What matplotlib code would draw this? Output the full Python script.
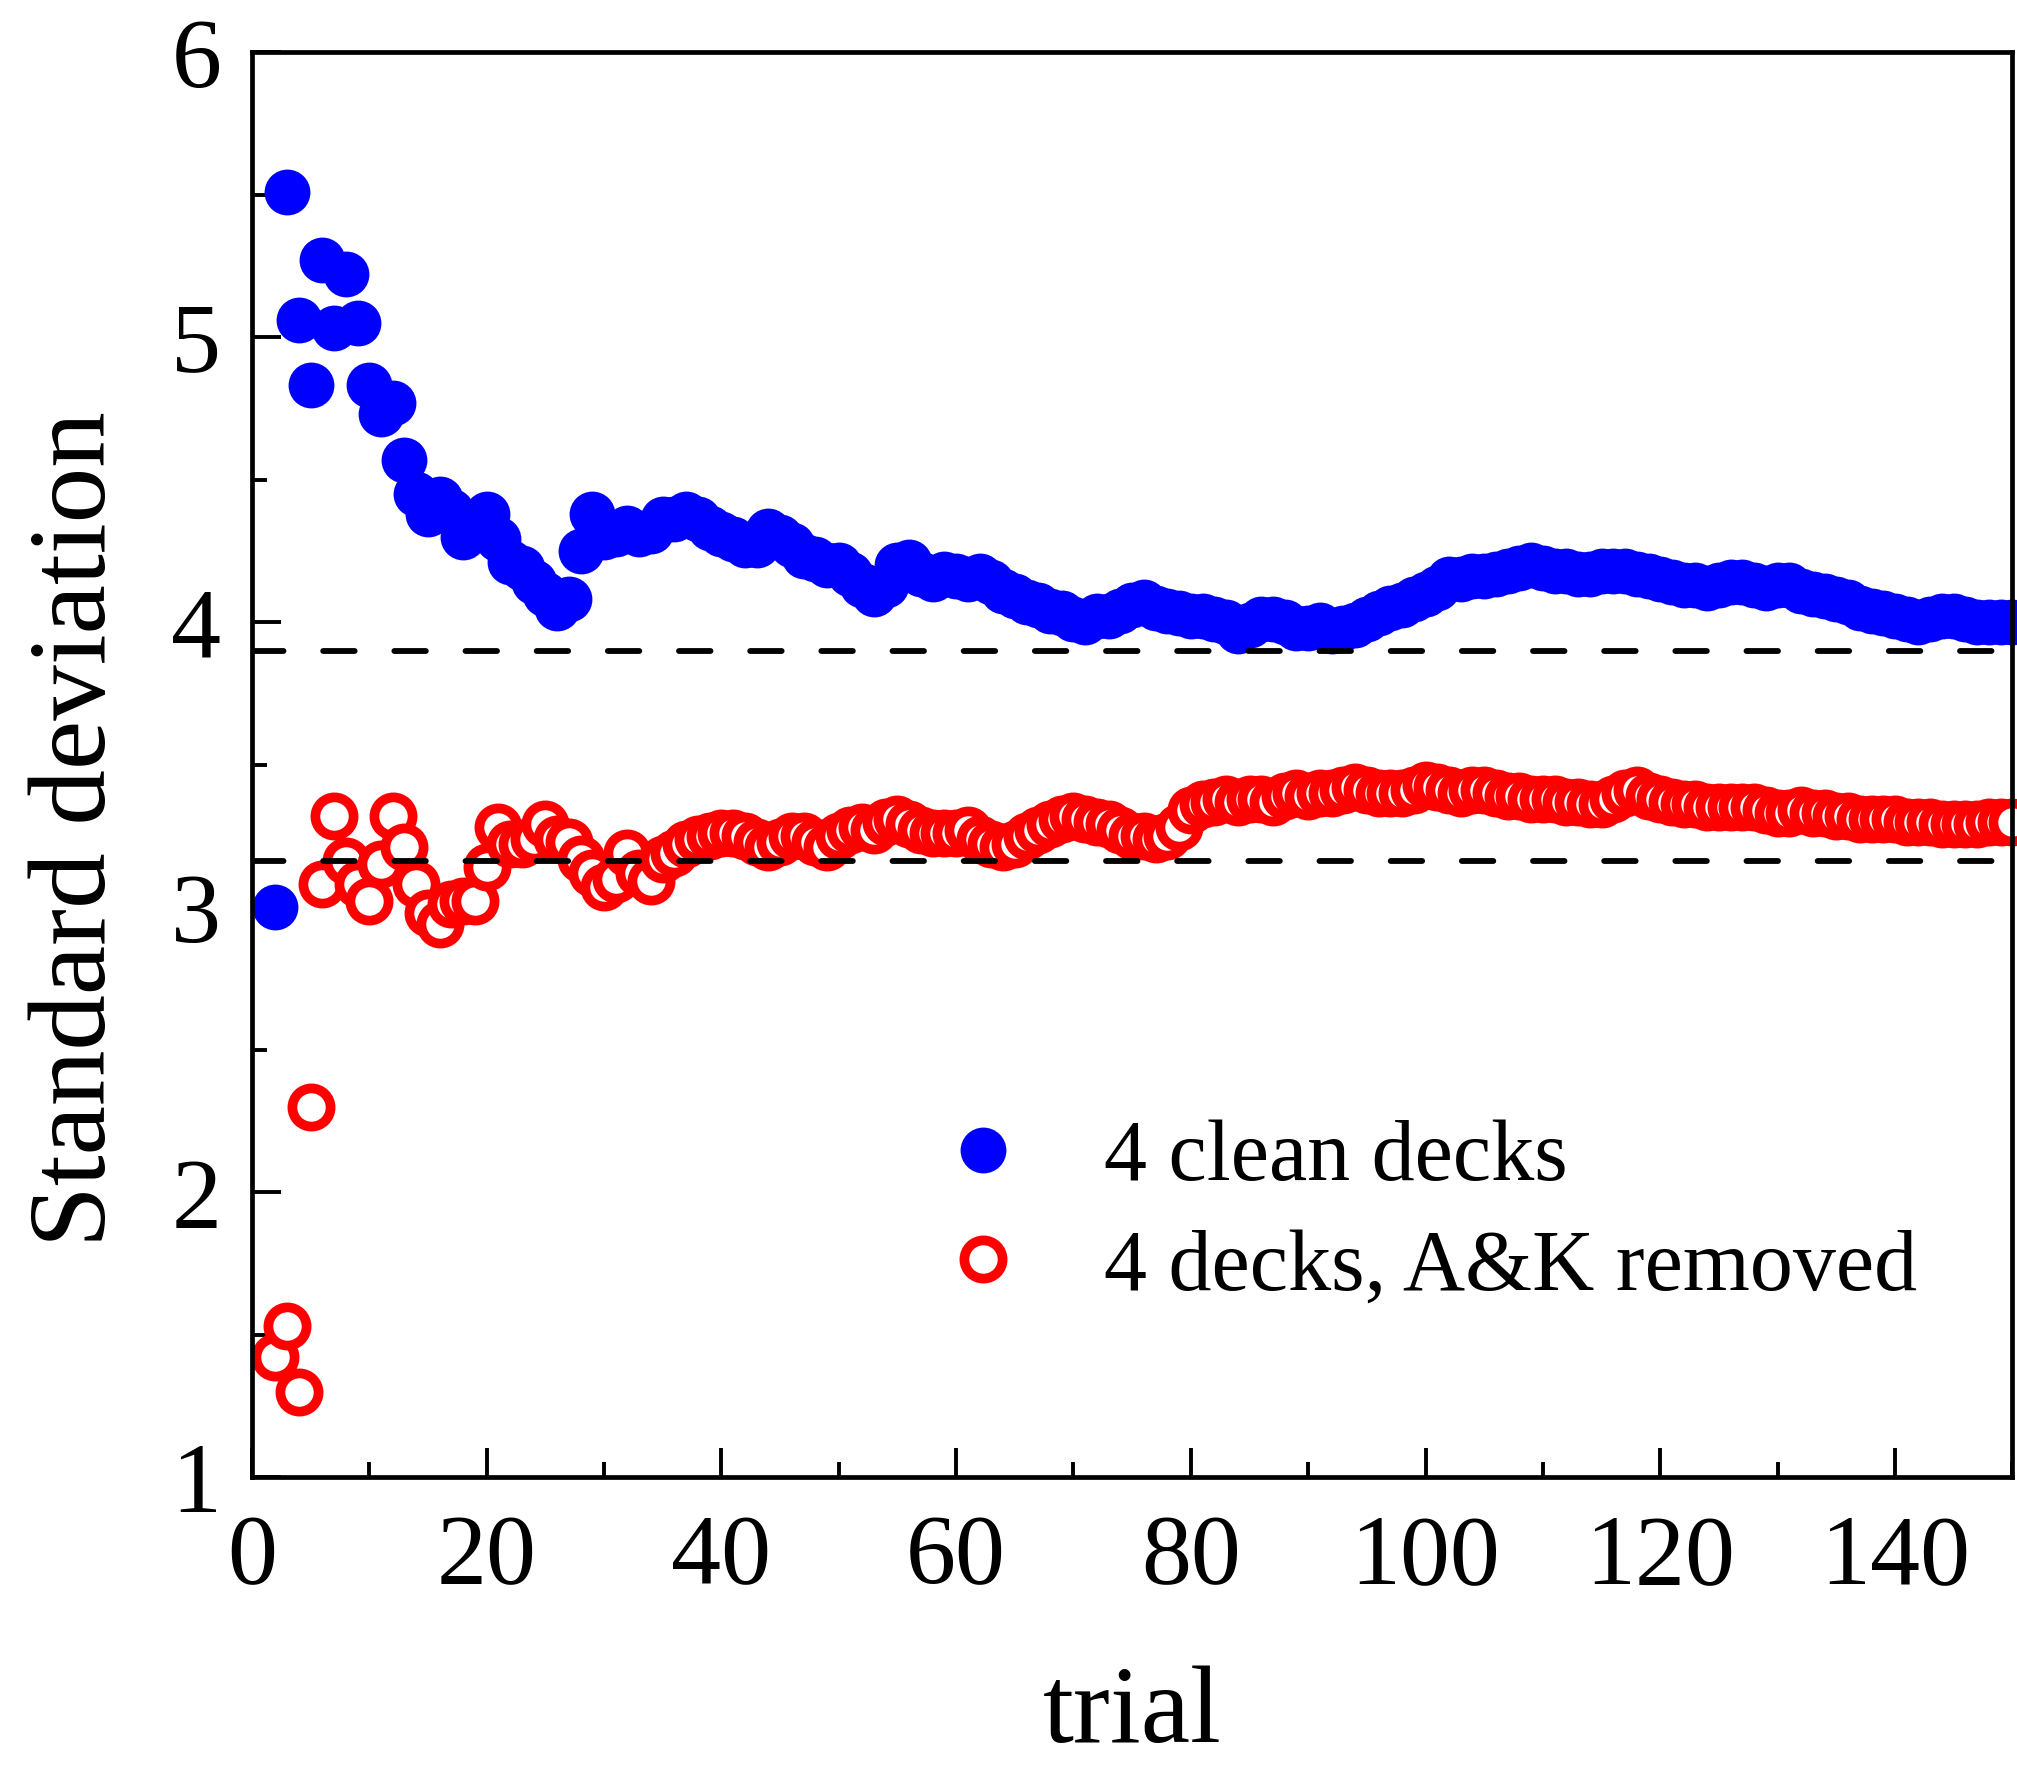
import numpy as np
import matplotlib
matplotlib.use('Agg')
import matplotlib.pyplot as plt
from matplotlib.ticker import MultipleLocator

plt.rcParams['font.family'] = ['Liberation Serif', 'DejaVu Serif']

# trial number (std is undefined for trial 1)
trials = np.arange(2, 151)

# 4 clean decks
sd_clean = [3.00, 5.51, 5.06, 4.83, 5.27, 5.03, 5.22, 5.05, 4.83, 4.73,
            4.77, 4.57, 4.45, 4.38, 4.43, 4.39, 4.30, 4.35, 4.38, 4.29,
            4.21, 4.19, 4.14, 4.10, 4.05, 4.08, 4.25, 4.38, 4.30, 4.31,
            4.33, 4.31, 4.32, 4.36, 4.36, 4.38, 4.36, 4.33, 4.31, 4.29,
            4.27, 4.27, 4.32, 4.30, 4.27, 4.23, 4.22, 4.20, 4.20, 4.17,
            4.13, 4.10, 4.13, 4.20, 4.21, 4.17, 4.15, 4.17, 4.16, 4.15,
            4.16, 4.14, 4.11, 4.09, 4.07, 4.06, 4.04, 4.03, 4.01, 4.00,
            4.02, 4.02, 4.04, 4.06, 4.07, 4.05, 4.04, 4.03, 4.02, 4.02,
            4.01, 4.00, 3.97, 3.99, 4.01, 4.01, 4.00, 3.98, 3.98, 3.99,
            3.97, 3.98, 3.99, 4.01, 4.03, 4.05, 4.06, 4.08, 4.10, 4.12,
            4.15, 4.15, 4.16, 4.16, 4.17, 4.18, 4.19, 4.20, 4.19, 4.18,
            4.18, 4.17, 4.17, 4.18, 4.18, 4.18, 4.17, 4.16, 4.15, 4.14,
            4.13, 4.13, 4.12, 4.13, 4.14, 4.14, 4.13, 4.12, 4.13, 4.13,
            4.11, 4.10, 4.09, 4.08, 4.07, 4.05, 4.04, 4.03, 4.02, 4.01,
            4.00, 4.01, 4.02, 4.02, 4.01, 4.00, 4.00, 4.00, 4.00]

# 4 decks with aces and kings removed
sd_removed = [1.42, 1.53, 1.30, 2.30, 3.08, 3.32, 3.16, 3.08, 3.02, 3.15,
              3.32, 3.21, 3.08, 2.98, 2.94, 3.01, 3.02, 3.02, 3.14, 3.28,
              3.22, 3.22, 3.24, 3.29, 3.24, 3.23, 3.17, 3.12, 3.07, 3.10,
              3.19, 3.12, 3.09, 3.17, 3.19, 3.22, 3.24, 3.25, 3.26, 3.26,
              3.25, 3.23, 3.21, 3.23, 3.25, 3.25, 3.23, 3.21, 3.25, 3.27,
              3.28, 3.27, 3.30, 3.31, 3.29, 3.27, 3.26, 3.26, 3.26, 3.27,
              3.24, 3.22, 3.21, 3.22, 3.25, 3.27, 3.29, 3.31, 3.32, 3.31,
              3.30, 3.29, 3.27, 3.25, 3.25, 3.24, 3.25, 3.28, 3.34, 3.36,
              3.37, 3.38, 3.37, 3.38, 3.38, 3.37, 3.39, 3.40, 3.39, 3.40,
              3.40, 3.41, 3.42, 3.41, 3.40, 3.40, 3.40, 3.41, 3.43, 3.42,
              3.41, 3.40, 3.41, 3.41, 3.40, 3.39, 3.39, 3.38, 3.38, 3.38,
              3.37, 3.37, 3.36, 3.36, 3.38, 3.40, 3.41, 3.39, 3.38, 3.37,
              3.36, 3.36, 3.35, 3.35, 3.35, 3.35, 3.35, 3.34, 3.33, 3.33,
              3.34, 3.33, 3.33, 3.32, 3.32, 3.31, 3.31, 3.31, 3.31, 3.30,
              3.30, 3.30, 3.29, 3.29, 3.29, 3.29, 3.30, 3.30, 3.30]

# theoretical values (dashed lines)
sd_theory = [3.90, 3.16]

labels = ['4 clean decks', '4 decks, A&K removed']

fig = plt.figure(figsize=(20.17, 17.70), dpi=100)
ax = fig.add_axes([0.1249, 0.1655, 0.8728, 0.8051])

ax.plot(trials, sd_clean, 'o', color='blue', ms=33, mew=0,
        clip_on=False, label=labels[0], zorder=2)
ax.plot(trials, sd_removed, 'o', mfc='white', mec='red', ms=27.5, mew=7.0,
        clip_on=False, label=labels[1], zorder=2)
for v in sd_theory:
    ax.axhline(v, color='black', lw=4.2, linestyle=(0, (5.4, 6.8)),
               dash_capstyle='round', zorder=3)

ax.set_xlim(0, 150)
ax.set_ylim(1, 6)
ax.xaxis.set_major_locator(MultipleLocator(20))
ax.xaxis.set_minor_locator(MultipleLocator(10))
ax.yaxis.set_major_locator(MultipleLocator(1))
ax.yaxis.set_minor_locator(MultipleLocator(0.5))
ax.tick_params(which='both', direction='in', width=2.8, labelsize=72)
ax.tick_params(which='major', length=21)
ax.tick_params(which='minor', length=11)
ax.tick_params(axis='x', pad=27)
ax.tick_params(axis='y', pad=22)
for s in ax.spines.values():
    s.set_linewidth(3.4)

ax.set_xlabel('trial', fontsize=80)
ax.set_ylabel('Standard deviation', fontsize=80)
ax.xaxis.set_label_coords(0.5, -0.1325)
ax.yaxis.set_label_coords(-0.0704, 0.455)

ax.legend(loc='upper left', bbox_to_anchor=(0.391, 0.251), frameon=False,
          fontsize=62, handlelength=1.0, handletextpad=0.9, numpoints=1,
          labelspacing=0.35, borderpad=0, borderaxespad=0)

fig.savefig('out.png', dpi=100)
